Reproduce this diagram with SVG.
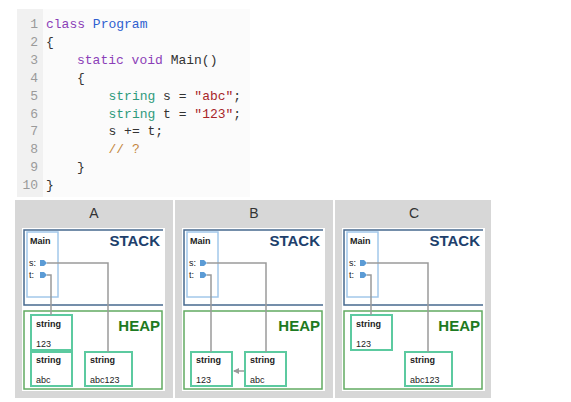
<svg xmlns="http://www.w3.org/2000/svg" width="571" height="402" viewBox="0 0 571 402">
<style>
.code{font-family:"Liberation Mono","DejaVu Sans Mono",monospace;font-size:13px;}
.ln{fill:#9a9a9a;text-anchor:end;}
.kw{fill:#8b3fb8;}
.ty{fill:#2f5fd0;}
.st{fill:#2e9a7c;}
.str{fill:#a8262a;}
.cm{fill:#c4873e;}
.tx{fill:#333;}
.title{font-family:"Liberation Sans",Arial,sans-serif;font-size:14px;fill:#333;text-anchor:middle;}
.sans{font-family:"Liberation Sans",Arial,sans-serif;}
.small{font-size:9px;fill:#222;}
.bold{font-weight:bold;}
.stack{font-size:15px;font-weight:bold;fill:#203f6c;text-anchor:end;}
.heap{font-size:15px;font-weight:bold;fill:#1e7a22;text-anchor:end;}
.sbox{fill:#fff;stroke:#5ccaa0;stroke-width:2;}
.main{fill:none;stroke:#a3c8ea;stroke-width:1.5;}
.stk{fill:none;stroke:#47698f;stroke-width:1.5;}
.hp{fill:none;stroke:#62ab62;stroke-width:1.5;}
.conn{fill:none;stroke:#9a9a9a;stroke-width:1.5;}
.dot{fill:#5b9bd5;}
</style>
<defs>
<marker id="ah" markerWidth="6" markerHeight="6" refX="5" refY="3" orient="auto" markerUnits="userSpaceOnUse">
<path d="M0,0 L6,3 L0,6 z" fill="#9a9a9a"/>
</marker>
<g id="dia"><polygon points="-3,-3 1,-3 4,0 1,3 -3,3" class="dot"/></g>
</defs>
<rect width="571" height="402" fill="#fff"/>

<g id="code">
<rect x="17" y="9" width="233" height="188" fill="#fbfbfb"/>
<rect x="17" y="9" width="26" height="188" fill="#f1f1f1"/>
<g class="code">
<text x="38" y="28" class="ln">1</text>
<text x="38" y="46" class="ln">2</text>
<text x="38" y="64" class="ln">3</text>
<text x="38" y="82" class="ln">4</text>
<text x="38" y="100" class="ln">5</text>
<text x="38" y="118" class="ln">6</text>
<text x="38" y="135" class="ln">7</text>
<text x="38" y="153" class="ln">8</text>
<text x="38" y="171" class="ln">9</text>
<text x="38" y="189" class="ln">10</text>
<text x="46" y="28" xml:space="preserve"><tspan class="kw">class</tspan><tspan class="tx"> </tspan><tspan class="ty">Program</tspan></text>
<text x="46" y="46" class="tx">{</text>
<text x="77" y="64" xml:space="preserve"><tspan class="kw">static void</tspan><tspan class="tx"> Main()</tspan></text>
<text x="77" y="82" class="tx">{</text>
<text x="108.5" y="100" xml:space="preserve"><tspan class="st">string</tspan><tspan class="tx"> s = </tspan><tspan class="str">"abc"</tspan><tspan class="tx">;</tspan></text>
<text x="108.5" y="118" xml:space="preserve"><tspan class="st">string</tspan><tspan class="tx"> t = </tspan><tspan class="str">"123"</tspan><tspan class="tx">;</tspan></text>
<text x="108.5" y="135" class="tx">s += t;</text>
<text x="108.5" y="153" class="cm">// ?</text>
<text x="77" y="171" class="tx">}</text>
<text x="46" y="189" class="tx">}</text>
</g>
</g>

<!-- Panel A -->
<g id="panelA">
<rect x="15" y="200" width="158" height="198" fill="#d7d7d7"/>
<text x="94" y="218" class="title">A</text>
<rect x="22" y="228" width="143" height="163" fill="#fff"/>
<g id="A-stack"><path d="M163,230 H24 V305 H163" class="stk"/><text x="160" y="246" class="sans stack">STACK</text></g>
<g id="A-main"><rect x="27" y="232" width="31" height="65" class="main"/><text x="30" y="244" class="sans small bold">Main</text><text x="29" y="266" class="sans small">s:</text><text x="29" y="278" class="sans small">t:</text><use href="#dia" x="43" y="263"/><use href="#dia" x="43" y="275"/></g>
<g id="A-heap"><rect x="24" y="311" width="138" height="78" class="hp"/><text x="160" y="331" class="sans heap">HEAP</text></g>
<g id="A-s123"><rect x="31" y="315" width="41" height="35" class="sbox"/><text x="36" y="327" class="sans small bold">string</text><text x="36" y="347" class="sans small">123</text></g>
<g id="A-sabc"><rect x="31" y="352" width="41" height="34" class="sbox"/><text x="36" y="363" class="sans small bold">string</text><text x="36" y="383" class="sans small">abc</text></g>
<g id="A-sabc123"><rect x="85" y="352" width="47" height="34" class="sbox"/><text x="90" y="363" class="sans small bold">string</text><text x="90" y="383" class="sans small">abc123</text></g>
<g id="A-connectors"><path d="M47,263 H108 V352" class="conn"/><path d="M47,275 H51 V315" class="conn"/></g>
</g>

<!-- Panel B -->
<g id="panelB">
<rect x="175" y="200" width="158" height="198" fill="#d7d7d7"/>
<text x="254" y="218" class="title">B</text>
<rect x="182" y="228" width="143" height="163" fill="#fff"/>
<g id="B-stack"><path d="M323,230 H184 V305 H323" class="stk"/><text x="320" y="246" class="sans stack">STACK</text></g>
<g id="B-main"><rect x="187" y="232" width="31" height="65" class="main"/><text x="190" y="244" class="sans small bold">Main</text><text x="189" y="266" class="sans small">s:</text><text x="189" y="278" class="sans small">t:</text><use href="#dia" x="203" y="263"/><use href="#dia" x="203" y="275"/></g>
<g id="B-heap"><rect x="184" y="311" width="138" height="78" class="hp"/><text x="320" y="331" class="sans heap">HEAP</text></g>
<g id="B-s123"><rect x="191" y="352" width="41" height="34" class="sbox"/><text x="196" y="363" class="sans small bold">string</text><text x="196" y="383" class="sans small">123</text></g>
<g id="B-sabc"><rect x="245" y="352" width="41" height="34" class="sbox"/><text x="250" y="363" class="sans small bold">string</text><text x="250" y="383" class="sans small">abc</text></g>
<g id="B-connectors"><path d="M207,263 H266 V352" class="conn"/><path d="M207,275 H211 V352" class="conn"/><path d="M244,371 H234" class="conn" marker-end="url(#ah)"/></g>
</g>

<!-- Panel C -->
<g id="panelC">
<rect x="335" y="200" width="156" height="198" fill="#d7d7d7"/>
<text x="414" y="218" class="title">C</text>
<rect x="342" y="228" width="143" height="163" fill="#fff"/>
<g id="C-stack"><path d="M483,230 H344 V305 H483" class="stk"/><text x="480" y="246" class="sans stack">STACK</text></g>
<g id="C-main"><rect x="347" y="232" width="31" height="65" class="main"/><text x="350" y="244" class="sans small bold">Main</text><text x="349" y="266" class="sans small">s:</text><text x="349" y="278" class="sans small">t:</text><use href="#dia" x="363" y="263"/><use href="#dia" x="363" y="275"/></g>
<g id="C-heap"><rect x="344" y="311" width="138" height="78" class="hp"/><text x="480" y="331" class="sans heap">HEAP</text></g>
<g id="C-s123"><rect x="351" y="315" width="41" height="35" class="sbox"/><text x="356" y="327" class="sans small bold">string</text><text x="356" y="347" class="sans small">123</text></g>
<g id="C-sabc123"><rect x="405" y="352" width="47" height="34" class="sbox"/><text x="410" y="363" class="sans small bold">string</text><text x="410" y="383" class="sans small">abc123</text></g>
<g id="C-connectors"><path d="M367,263 H428 V352" class="conn"/><path d="M367,275 H371 V315" class="conn"/></g>
</g>
</svg>
